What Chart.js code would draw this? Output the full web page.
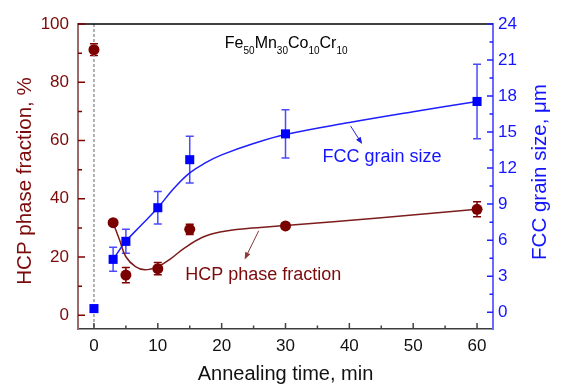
<!DOCTYPE html>
<html>
<head>
<meta charset="utf-8">
<script src="https://cdn.jsdelivr.net/npm/chart.js@4.4.1/dist/chart.umd.min.js"></script>
<style>
  html, body { margin: 0; padding: 0; background: #fff; }
  #wrap { width: 564px; height: 386px; }
</style>
</head>
<body>
<div id="wrap"><canvas id="chart"></canvas></div>
<script>
// measured points (annealing time, min)
const times = [0, 3, 5, 10, 15, 30, 60];
const hcpFraction = [91.2, 31.8, 13.8, 16.0, 29.5, 30.7, 36.4];
const hcpError = [2.0, 0.8, 2.6, 2.1, 1.8, 1.0, 2.6];
const fccGrain = [0.3, 4.4, 5.9, 8.7, 12.7, 14.85, 17.55];
const fccError = [0, 1.0, 1.0, 1.35, 1.95, 2.0, 3.1];

// fitted curves
const hcpFitTime = [3, 4, 5, 6.5, 8, 10, 12, 14, 17, 20, 24, 30, 45, 60];
const hcpFit = [31.8, 25.9, 20.1, 16.7, 15.6, 16.7, 19.4, 22.8, 26.8, 28.7, 29.8, 30.8, 33.5, 36.4];
const fccFitTime = [3, 5, 7.5, 10, 12.5, 15, 17.5, 20, 25, 30, 40, 50, 60];
const fccFit = [4.4, 5.9, 7.3, 8.7, 10.3, 11.6, 12.45, 13.1, 14.05, 14.8, 15.8, 16.7, 17.55];

const timeTicks = [0, 10, 20, 30, 40, 50, 60];
const hcpTicks = [0, 20, 40, 60, 80, 100];
const fccTicks = [0, 3, 6, 9, 12, 15, 18, 21, 24];

const FONT = 'Arial, "Liberation Sans", sans-serif';
const RED = '#7b0a0a';
const BLUE = '#1414ff';

function pts(xs, ys) {
    return xs.map((x, i) => ({ x: x, y: ys[i] }));
}

function midpoints(arr) {
    const out = [];
    for (let i = 0; i < arr.length - 1; i++) out.push((arr[i] + arr[i + 1]) / 2);
    return out;
}

function drawArrow(ctx, x1, y1, x2, y2, color) {
    const ang = Math.atan2(y2 - y1, x2 - x1);
    ctx.strokeStyle = color;
    ctx.fillStyle = color;
    ctx.lineWidth = 1;
    ctx.beginPath();
    ctx.moveTo(x1, y1);
    ctx.lineTo(x2 - 5 * Math.cos(ang), y2 - 5 * Math.sin(ang));
    ctx.stroke();
    ctx.beginPath();
    ctx.moveTo(x2, y2);
    ctx.lineTo(x2 - 7 * Math.cos(ang) + 2.8 * Math.sin(ang), y2 - 7 * Math.sin(ang) - 2.8 * Math.cos(ang));
    ctx.lineTo(x2 - 7 * Math.cos(ang) - 2.8 * Math.sin(ang), y2 - 7 * Math.sin(ang) + 2.8 * Math.cos(ang));
    ctx.closePath();
    ctx.fill();
}

function vTitle(ctx, text, x, y, color) {
    ctx.save();
    ctx.translate(x, y);
    ctx.rotate(-Math.PI / 2);
    ctx.fillStyle = color;
    ctx.font = '20.5px ' + FONT;
    ctx.textAlign = 'center';
    ctx.textBaseline = 'middle';
    ctx.fillText(text, 0, 0);
    ctx.restore();
}

const errorBars = {
    id: 'errorBars',
    beforeDatasetsDraw(chart) {
        const { ctx, scales } = chart;
        const sets = [
            { vals: hcpFraction, err: hcpError, axis: scales.y, color: '#800000' },
            { vals: fccGrain, err: fccError, axis: scales.y2, color: '#4a4aff' }
        ];
        ctx.save();
        ctx.lineWidth = 1.5;
        sets.forEach(s => {
            ctx.strokeStyle = s.color;
            times.forEach((t, i) => {
                if (!s.err[i]) return;
                const px = scales.x.getPixelForValue(t);
                const top = s.axis.getPixelForValue(s.vals[i] + s.err[i]);
                const bot = s.axis.getPixelForValue(s.vals[i] - s.err[i]);
                ctx.beginPath();
                ctx.moveTo(px, top); ctx.lineTo(px, bot);
                ctx.moveTo(px - 4, top); ctx.lineTo(px + 4, top);
                ctx.moveTo(px - 4, bot); ctx.lineTo(px + 4, bot);
                ctx.stroke();
            });
        });
        // dashed line at t = 0
        const x0 = scales.x.getPixelForValue(0);
        ctx.strokeStyle = '#999';
        ctx.setLineDash([3, 2]);
        ctx.beginPath();
        ctx.moveTo(x0, chart.chartArea.top);
        ctx.lineTo(x0, chart.chartArea.bottom);
        ctx.stroke();
        ctx.restore();
    }
};

const frame = {
    id: 'frame',
    afterDraw(chart) {
        const { ctx, chartArea: a, scales } = chart;
        ctx.save();
        // top border
        ctx.strokeStyle = '#000';
        ctx.lineWidth = 1.5;
        ctx.beginPath();
        ctx.moveTo(a.left, a.top); ctx.lineTo(a.right, a.top);
        ctx.stroke();

        // inward tick marks
        ctx.lineWidth = 1.5;
        ctx.strokeStyle = '#444';
        ctx.beginPath();
        timeTicks.forEach(v => { const p = scales.x.getPixelForValue(v); ctx.moveTo(p, a.bottom); ctx.lineTo(p, a.bottom - 6); });
        midpoints(timeTicks).forEach(v => { const p = scales.x.getPixelForValue(v); ctx.moveTo(p, a.bottom); ctx.lineTo(p, a.bottom - 3.5); });
        ctx.stroke();

        ctx.strokeStyle = '#800000';
        ctx.beginPath();
        hcpTicks.forEach(v => { const p = scales.y.getPixelForValue(v); ctx.moveTo(a.left, p); ctx.lineTo(a.left + 7, p); });
        midpoints(hcpTicks).forEach(v => { const p = scales.y.getPixelForValue(v); ctx.moveTo(a.left, p); ctx.lineTo(a.left + 4, p); });
        ctx.stroke();

        ctx.strokeStyle = '#2020ff';
        ctx.beginPath();
        fccTicks.forEach(v => { const p = scales.y2.getPixelForValue(v); ctx.moveTo(a.right, p); ctx.lineTo(a.right - 6, p); });
        midpoints(fccTicks).forEach(v => { const p = scales.y2.getPixelForValue(v); ctx.moveTo(a.right, p); ctx.lineTo(a.right - 3.5, p); });
        ctx.stroke();

        // axis titles, both reading bottom to top
        vTitle(ctx, 'HCP phase fraction, %', 25, 181, RED);
        vTitle(ctx, 'FCC grain size, \u03bcm', 540, 172, BLUE);

        // alloy formula
        let fx = scales.x.getPixelForValue(20.5);
        const fy = scales.y.getPixelForValue(91.9);
        ctx.fillStyle = '#000';
        ctx.textBaseline = 'alphabetic';
        ctx.textAlign = 'left';
        [['Fe', '50'], ['Mn', '30'], ['Co', '10'], ['Cr', '10']].forEach(([el, n]) => {
            ctx.font = '16px ' + FONT;
            ctx.fillText(el, fx, fy);
            fx += ctx.measureText(el).width;
            ctx.font = '10px ' + FONT;
            ctx.fillText(n, fx, fy + 6);
            fx += ctx.measureText(n).width;
        });

        // curve labels and arrows
        ctx.font = '18px ' + FONT;
        ctx.fillStyle = BLUE;
        ctx.fillText('FCC grain size', scales.x.getPixelForValue(35.8), scales.y2.getPixelForValue(12.5));
        drawArrow(ctx, scales.x.getPixelForValue(40.2), scales.y2.getPixelForValue(15.5),
            scales.x.getPixelForValue(42.0), scales.y2.getPixelForValue(14.0), '#2020e0');

        ctx.fillStyle = RED;
        ctx.fillText('HCP phase fraction', scales.x.getPixelForValue(14.3), scales.y.getPixelForValue(12.1));
        drawArrow(ctx, scales.x.getPixelForValue(25.8), scales.y.getPixelForValue(29.0),
            scales.x.getPixelForValue(23.6), scales.y.getPixelForValue(19.2), '#8b3a3a');
        ctx.restore();
    }
};

const ctx = document.getElementById('chart').getContext('2d');
new Chart(ctx, {
    type: 'scatter',
    data: {
        datasets: [
            {
                label: 'HCP phase fraction',
                data: pts(times, hcpFraction),
                yAxisID: 'y',
                pointStyle: 'circle',
                pointRadius: 5.5,
                backgroundColor: '#7b0000',
                borderColor: '#7b0000',
                borderWidth: 0
            },
            {
                label: 'FCC grain size',
                data: pts(times, fccGrain),
                yAxisID: 'y2',
                pointStyle: 'rect',
                pointRadius: 6.4,
                backgroundColor: '#0000ff',
                borderColor: '#0000ff',
                borderWidth: 0
            },
            {
                label: 'HCP fit',
                data: pts(hcpFitTime, hcpFit),
                yAxisID: 'y',
                showLine: true,
                pointRadius: 0,
                borderColor: '#7d1c1c',
                borderWidth: 1.5,
                tension: 0.4
            },
            {
                label: 'FCC fit',
                data: pts(fccFitTime, fccFit),
                yAxisID: 'y2',
                showLine: true,
                pointRadius: 0,
                borderColor: '#1e1eff',
                borderWidth: 1.5,
                tension: 0.4
            }
        ]
    },
    options: {
        responsive: true,
        maintainAspectRatio: false,
        animation: false,
        layout: { padding: { top: 24, left: 0, right: 0, bottom: 0 } },
        plugins: { legend: { display: false }, tooltip: { enabled: false } },
        scales: {
            x: {
                type: 'linear',
                min: -2.5,
                max: 62.5,
                afterBuildTicks: s => { s.ticks = timeTicks.map(v => ({ value: v })); },
                afterFit: s => { s.height = 57; },
                grid: { display: false, drawTicks: false },
                border: { color: '#3c3c3c', width: 1.5 },
                ticks: { color: '#111', font: { family: FONT, size: 17 }, padding: 7 },
                title: { display: true, text: 'Annealing time, min', color: '#111', font: { family: FONT, size: 20 }, padding: { top: 11, bottom: 0 } }
            },
            y: {
                type: 'linear',
                position: 'left',
                min: -4.7,
                max: 100,
                afterBuildTicks: s => { s.ticks = hcpTicks.map(v => ({ value: v })); },
                afterFit: s => { s.width = 78; },
                grid: { display: false, drawTicks: false },
                border: { color: '#9c6a6a', width: 2 },
                ticks: { color: RED, font: { family: FONT, size: 17 }, padding: 9 }
            },
            y2: {
                type: 'linear',
                position: 'right',
                min: -1.4,
                max: 24,
                afterBuildTicks: s => { s.ticks = fccTicks.map(v => ({ value: v })); },
                afterFit: s => { s.width = 71; },
                grid: { display: false, drawTicks: false },
                border: { color: '#6a6aff', width: 2 },
                ticks: { color: BLUE, font: { family: FONT, size: 17 }, padding: 5 }
            }
        }
    },
    plugins: [errorBars, frame]
});
</script>
</body>
</html>
